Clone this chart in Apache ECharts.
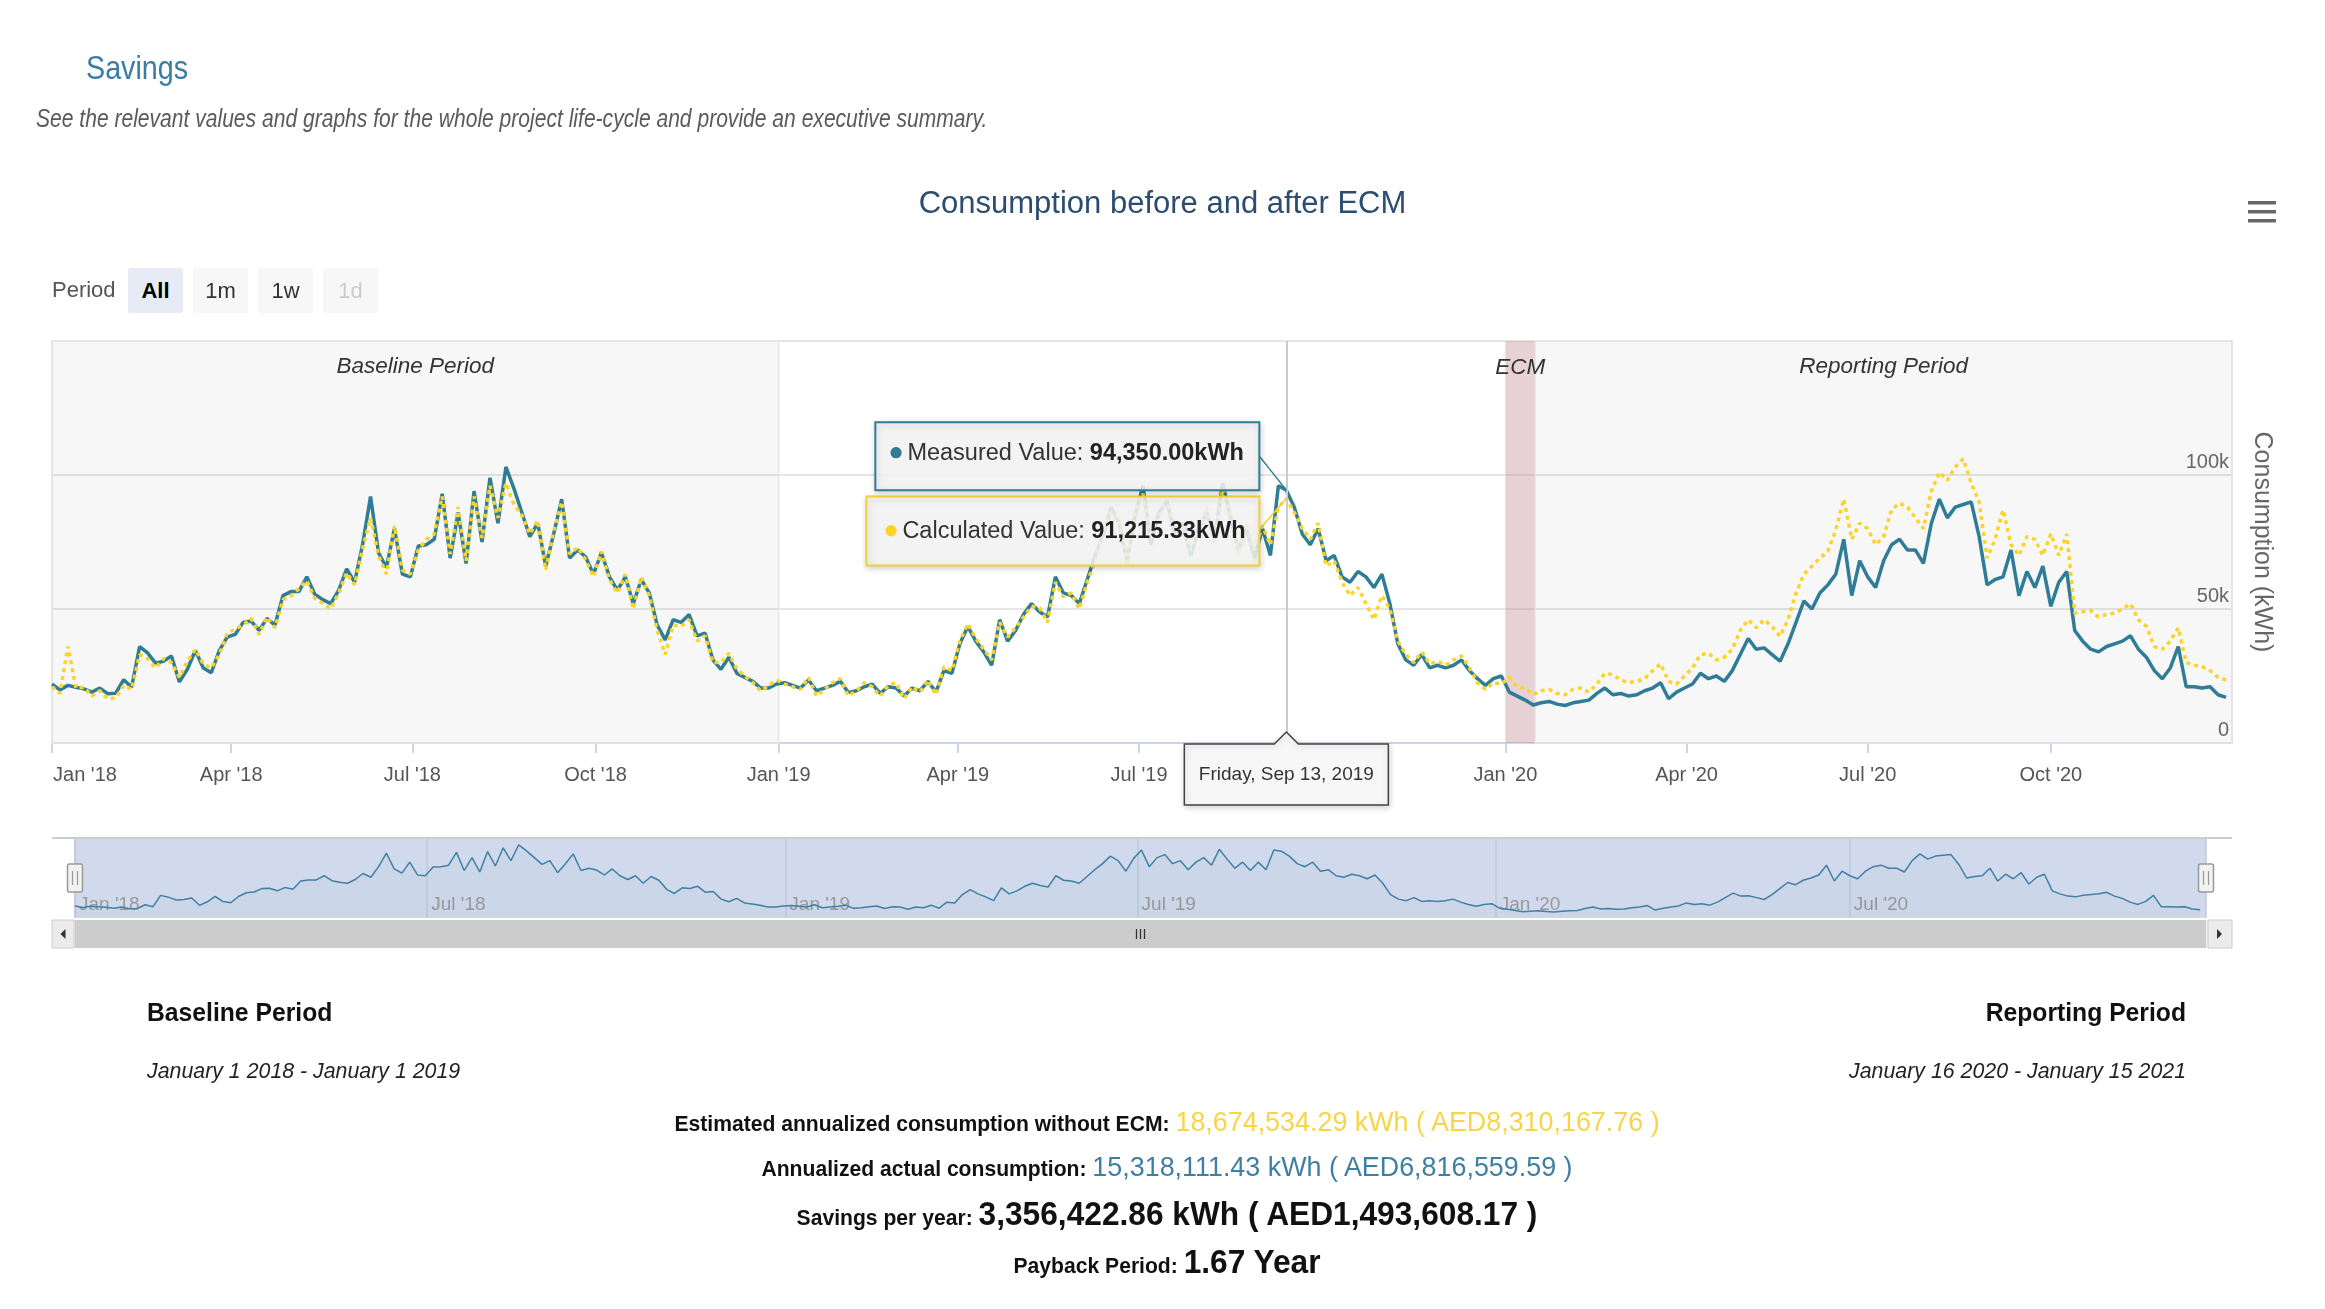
<!DOCTYPE html>
<html lang="en">
<head>
<meta charset="utf-8">
<title>Savings</title>
<script src="https://cdn.jsdelivr.net/npm/echarts@6.0.0/dist/echarts.min.js"></script>
<style>
  html, body { margin: 0; padding: 0; background: #fff; }
  body {
    position: relative; width: 2325px; height: 1309px; overflow: hidden;
    font-family: "Liberation Sans Narrow", "Arial Narrow", "Liberation Sans", Arial, sans-serif;
  }
  #chart { position: absolute; left: 0; top: 0; width: 2325px; height: 1309px; }
  .t { position: absolute; white-space: nowrap; line-height: 1.2; transform-origin: left center; transform: translateY(-50%) scaleX(var(--sx, 1)); }
  .t.c { transform-origin: center center; transform: translate(-50%, -50%) scaleX(var(--sx, 1)); }
  .t.r { transform-origin: right center; transform: translate(-100%, -50%) scaleX(var(--sx, 1)); }
  .page-title { left: 86px; top: 68px; font-size: 33px; color: #3b7ca6; --sx: 0.87; }
  .page-sub { left: 36px; top: 119px; font-size: 26px; font-style: italic; color: #5a5a5a; --sx: 0.81; }
  .rs { font-family: "Liberation Sans", Arial, sans-serif; font-size: 22px; }
  .rs-label { left: 52px; top: 290px; color: #555; }
  .rs-btn {
    position: absolute; top: 268px; width: 55px; height: 45px; line-height: 45px;
    text-align: center; background: #f7f7f7; border-radius: 3px; color: #333;
  }
  .rs-btn.sel { background: #e6ebf5; font-weight: bold; color: #000; }
  .rs-btn.off { color: #cccccc; }
  .sum-head { font-size: 26px; font-weight: bold; color: #111; --sx: 0.95; }
  .sum-date { font-size: 22px; font-style: italic; color: #222; --sx: 0.97; }
  .sum-line { left: 1167px; font-size: 22px; font-weight: bold; color: #111; --sx: 0.96; }
  .v-calc { font-size: 28px; font-weight: normal; color: #f8d548; }
  .v-meas { font-size: 28px; font-weight: normal; color: #3f7fa3; }
  .v-save { font-size: 33px; font-weight: bold; color: #111; }
  .v-pay { font-size: 33px; font-weight: bold; color: #111; }
</style>
</head>
<body>
<div id="chart"></div>

<div class="t page-title">Savings</div>
<div class="t page-sub">See the relevant values and graphs for the whole project life-cycle and provide an executive summary.</div>

<div class="t rs rs-label">Period</div>
<div id="rangeButtons" class="rs"></div>

<div class="t sum-head" style="left:147px; top:1013px;">Baseline Period</div>
<div class="t sum-date" style="left:147px; top:1071px;">January 1 2018 - January 1 2019</div>
<div class="t r sum-head" style="left:2186px; top:1013px;">Reporting Period</div>
<div class="t r sum-date" style="left:2186px; top:1071px;">January 16 2020 - January 15 2021</div>

<div class="t c sum-line" style="top:1122px;">Estimated annualized consumption without ECM: <span class="v-calc">18,674,534.29 kWh ( AED8,310,167.76 )</span></div>
<div class="t c sum-line" style="top:1167px;">Annualized actual consumption: <span class="v-meas">15,318,111.43 kWh ( AED6,816,559.59 )</span></div>
<div class="t c sum-line" style="top:1214px;">Savings per year: <span class="v-save">3,356,422.86 kWh ( AED1,493,608.17 )</span></div>
<div class="t c sum-line" style="top:1262px;">Payback Period: <span class="v-pay">1.67 Year</span></div>

<script>
  const FONT = '"Liberation Sans", Arial, sans-serif'
  const DAY = 86400000

  // daily readings, one every 4 days
  const startDate = '2018-01-01'
  const endDate = '2020-12-31'
  const stepDays = 4

  const measured = [
    22000, 19800, 21500, 20800, 20200, 19000, 20500, 18400, 18600, 23600, 20800,
    36000, 33600, 29800, 30500, 32500, 22800, 27500, 34500, 28000, 26200,
    34500, 39500, 40500, 45000, 45500, 42000, 46500, 44000, 55000, 56500,
    56500, 62000, 55500, 53500, 52000, 57000, 65000, 60000, 74000, 92000,
    71000, 65500, 80000, 63000, 62000, 73500, 74000, 76000, 93000, 69000,
    86000, 67000, 94000, 75000, 99000, 82000, 103000, 95000, 86000, 77000,
    82000, 66000, 78000, 91000, 69000, 72000, 69500, 63000, 71000, 62000,
    57000, 62000, 52000, 61000, 56000, 44000, 38500, 46000, 45000, 48000,
    40000, 41000, 31000, 27500, 32000, 26000, 24500, 23000, 20500, 20500,
    22000, 22500, 21500, 20500, 23500, 19500, 20500, 21500, 23000, 18800,
    19500, 21000, 22000, 18500, 21000, 20500, 17500, 20500, 19500, 23000,
    19000, 27000, 26000, 37000, 43500, 38000, 34000, 29000, 46000, 38000,
    42000, 48000, 52000, 49000, 47000, 62000, 56000, 55000, 52000, 61000,
    70000, 78000, 88000, 82000, 68000, 85000, 96000, 74000, 86000, 90000,
    78000, 82000, 70000, 80000, 86000, 76000, 97000, 84000, 72000, 80000,
    69000, 80000, 70000, 96000, 94350, 88000, 78000, 74000, 80000, 68000,
    70000, 62000, 60000, 64000, 62000, 58000, 63000, 52000, 37000, 31000,
    29000, 33000, 28000, 29000, 28000, 29000, 31000, 27000, 24000, 21500,
    24000, 25000, 19000, 17500, 16000, 14200, 15000, 15500, 14500, 14000,
    15000, 15500, 16000, 18500, 20500, 18000, 18500, 17500, 18000, 19500,
    20500, 22500, 16500, 19000, 20500, 22000, 26000, 24000, 25000, 23000,
    27000, 33000, 39000, 35000, 35500, 33000, 30500, 37000, 45000, 53000,
    50000, 56000, 59000, 63000, 76000, 55000, 68000, 62000, 58000, 68000,
    74000, 76000, 72000, 72000, 67000, 82000, 91000, 84000, 88000, 89000,
    90000, 77000, 59000, 61000, 62000, 72000, 55000, 64000, 58000, 66000,
    51000, 60000, 64000, 42000, 38000, 35000, 34000, 36000, 37000, 38000,
    40000, 35000, 32000, 27000, 24000, 28000, 36000, 21000, 21000, 20500,
    21000, 18000, 17000,
  ]

  const calculated = [
    21000, 18500, 36000, 20500, 20800, 17500, 19500, 16500, 16800, 21500, 20000,
    33000, 31500, 28000, 31500, 30000, 24500, 30500, 35000, 29500, 28000,
    33000, 41000, 42500, 44000, 46500, 40500, 47000, 43000, 53500, 55000,
    57500, 60500, 54000, 52000, 50000, 56000, 63500, 59000, 72500, 84000,
    70000, 63000, 81000, 64500, 63000, 72000, 76000, 78000, 92000, 70500,
    88000, 68000, 92000, 76500, 96000, 84000, 97000, 89000, 85000, 78000,
    83000, 64500, 79000, 90000, 70500, 73000, 68500, 62000, 71500, 61000,
    56000, 63000, 50000, 62000, 55000, 42000, 33000, 44000, 43500, 46000,
    38000, 40000, 30000, 30000, 33500, 27500, 25000, 22500, 19500, 21500,
    23500, 22000, 21000, 20000, 24500, 17500, 20000, 22500, 24000, 17500,
    19500, 22500, 21000, 17500, 21500, 22500, 16500, 21000, 19000, 23500,
    18000, 28500, 27000, 38000, 44500, 39000, 35000, 31000, 45000, 39500,
    43000, 47000, 51000, 50500, 45000, 60000, 54500, 56000, 50000, 60000,
    68000, 80000, 86000, 84000, 66000, 87000, 93000, 76000, 84000, 91000,
    80000, 81000, 72000, 79000, 88000, 74000, 95000, 86000, 70000, 82000,
    72000, 81000, 74000, 88000, 91215.33, 86000, 80000, 76000, 82000, 66000,
    68000, 60000, 55000, 58000, 52000, 46000, 55000, 50000, 38000, 33000,
    30000, 34000, 29500, 30500, 29000, 31000, 32500, 28000, 22500, 20000,
    22500, 22000, 24500, 21000, 20500, 18000, 19500, 20000, 18500, 18000,
    20000, 20500, 19000, 22000, 26000, 25500, 23500, 22500, 23000, 24000,
    27000, 29500, 23000, 22000, 25000, 28000, 33000, 33500, 31000, 32000,
    35000, 42000, 46000, 43000, 46000, 43500, 39800, 46000, 56000, 63000,
    66000, 69000, 71500, 79500, 91000, 76000, 82000, 80000, 74000, 77000,
    87000, 89500, 88000, 84000, 80000, 94000, 101000, 98000, 103000, 106000,
    97000, 90000, 69000, 76000, 87000, 74000, 70000, 77000, 76000, 70000,
    78000, 70000, 78000, 48500, 49000, 49500, 47000, 48000, 48500, 50000,
    52000, 46000, 43500, 36000, 35000, 38000, 43000, 30000, 29000, 28500,
    27000, 24500, 23500,
  ]

  const bandNames = ['Baseline Period', 'ECM', 'Reporting Period']
  const bandStarts = ['2018-01-01', '2020-01-01', '2020-01-16']
  const bandEnds = ['2019-01-01', '2020-01-16', '2021-01-15']

  const yTicks = [0, 50000, 100000, 150000]
  const navRange = [6000, 112000]

  const tipIndex = 155
  const monthNames = ['Jan', 'Feb', 'Mar', 'Apr', 'May', 'Jun', 'Jul', 'Aug', 'Sep', 'Oct', 'Nov', 'Dec']
  const weekDays = ['Sunday', 'Monday', 'Tuesday', 'Wednesday', 'Thursday', 'Friday', 'Saturday']
  const periodButtons = ['All', '1m', '1w', '1d']

  // range selector buttons
  const rb = document.getElementById('rangeButtons')
  periodButtons.forEach((txt, i) => {
    const b = document.createElement('div')
    b.className = 'rs-btn' + (i === 0 ? ' sel' : '') + (i === periodButtons.length - 1 ? ' off' : '')
    b.style.left = 128 + i * 65 + 'px'
    b.textContent = txt
    rb.appendChild(b)
  })

  const t0 = Date.parse(startDate)
  const tMax = Date.parse(endDate)
  const timeAt = (i) => t0 + i * stepDays * DAY
  const measuredPts = measured.map((v, i) => [timeAt(i), v])
  const calculatedPts = calculated.map((v, i) => [timeAt(i), v])
  const tipTime = timeAt(tipIndex)

  const monthLabel = (v) => {
    const d = new Date(v)
    return monthNames[d.getUTCMonth()] + " '" + String(d.getUTCFullYear()).slice(2)
  }
  // first label starts at the tick instead of being centred on it
  const mainLabel = (v) => (v <= t0 ? '{first|' + monthLabel(v) + '}' : monthLabel(v))
  const fmtKwh = (v) =>
    v.toLocaleString('en-US', { minimumFractionDigits: 2, maximumFractionDigits: 2 }) + 'kWh'

  const BLUE = '#2f7c96'
  const YELLOW = '#fbd42a'

  const chart = echarts.init(document.getElementById('chart'))

  const valueAxisBase = {
    type: 'value',
    gridIndex: 0,
    position: 'right',
    min: yTicks[0],
    max: yTicks[yTicks.length - 1],
    interval: yTicks[1] - yTicks[0],
    axisLine: { show: false },
    axisTick: { show: false },
  }

  const option = {
    useUTC: true,
    animation: false,
    textStyle: { fontFamily: FONT },
    title: {
      text: 'Consumption before and after ECM',
      left: 'center',
      top: 189,
      padding: 0,
      textStyle: { color: '#2b4d6f', fontSize: 31, fontWeight: 'normal', fontFamily: FONT },
    },
    grid: [
      {
        left: 52, top: 341, width: 2180, height: 402,
        show: true, backgroundColor: '#fff', borderColor: '#e6e6e6', borderWidth: 2,
      },
      {
        left: 75, top: 838, width: 2131, height: 80,
        show: true, backgroundColor: '#d1daed', borderWidth: 0,
      },
    ],
    xAxis: [
      {
        type: 'time',
        gridIndex: 0,
        min: t0,
        max: tMax,
        minInterval: 92 * DAY,
        maxInterval: 92 * DAY,
        axisLine: { lineStyle: { color: '#ccd6eb', width: 2 } },
        axisTick: { length: 10, lineStyle: { color: '#ccd6eb', width: 2 } },
        axisLabel: {
          formatter: mainLabel,
          color: '#555',
          fontSize: 20,
          margin: 22,
          hideOverlap: false,
          rich: { first: { color: '#555', fontSize: 20, padding: [0, 0, 0, 66] } },
        },
        splitLine: { show: false },
      },
      {
        type: 'time',
        gridIndex: 1,
        min: t0,
        max: tMax,
        minInterval: 183 * DAY,
        maxInterval: 183 * DAY,
        axisLine: { show: false },
        axisTick: { show: false },
        axisLabel: {
          inside: true,
          formatter: monthLabel,
          color: '#999',
          fontSize: 19,
          align: 'left',
          padding: [0, 0, 0, 4],
          margin: 4,
          hideOverlap: false,
        },
        splitLine: { show: true, lineStyle: { color: '#c0c9db', width: 1.5 } },
      },
    ],
    yAxis: [
      // grid lines (under the lines)
      Object.assign({}, valueAxisBase, {
        axisLabel: { show: false },
        splitLine: { lineStyle: { color: '#e6e6e6', width: 2 } },
      }),
      {
        type: 'value',
        gridIndex: 1,
        min: navRange[0],
        max: navRange[1],
        show: false,
        splitLine: { show: false },
      },
      // labels and title drawn on top of the plot bands
      Object.assign({}, valueAxisBase, {
        z: 10,
        splitLine: { show: false },
        axisLabel: {
          inside: true,
          showMaxLabel: false,
          formatter: (v) => (v === 0 ? '0' : v / 1000 + 'k'),
          color: '#666',
          fontSize: 20,
          verticalAlign: 'bottom',
          margin: 3,
          padding: [0, 0, 3, 0],
        },
        name: 'Consumption (kWh)',
        nameLocation: 'middle',
        nameRotate: -90,
        nameGap: 17,
        nameTextStyle: { color: '#666', fontSize: 25 },
      }),
    ],
    series: [
      {
        name: 'bands',
        type: 'line',
        xAxisIndex: 0,
        yAxisIndex: 0,
        data: [],
        z: 1,
        silent: true,
        markArea: {
          silent: true,
          label: {
            position: 'insideTop',
            distance: 15,
            color: '#333',
            fontStyle: 'italic',
            fontSize: 22.5,
          },
          data: bandNames.map((n, i) => [
            {
              name: n,
              xAxis: Date.parse(bandStarts[i]),
              itemStyle:
                n === 'ECM'
                  ? { color: 'rgba(189,124,132,0.35)' }
                  : { color: 'rgba(0,0,0,0.03)', borderColor: '#e6e6e6', borderWidth: 1.5 },
            },
            { xAxis: Math.min(Date.parse(bandEnds[i]), tMax) },
          ]),
        },
        markLine: {
          silent: true,
          symbol: ['none', 'none'],
          label: { show: false },
          lineStyle: { color: '#cccccc', width: 2, type: 'solid' },
          data: [{ xAxis: tipTime }],
        },
      },
      {
        name: 'Measured Value',
        type: 'line',
        xAxisIndex: 0,
        yAxisIndex: 0,
        data: measuredPts,
        showSymbol: false,
        z: 2,
        lineStyle: { color: BLUE, width: 3.5 },
        itemStyle: { color: BLUE },
      },
      {
        name: 'Calculated Value',
        type: 'line',
        xAxisIndex: 0,
        yAxisIndex: 0,
        data: calculatedPts,
        showSymbol: false,
        z: 3,
        lineStyle: { color: YELLOW, width: 3.5, type: [4, 4], cap: 'butt' },
        itemStyle: { color: YELLOW },
      },
      {
        name: 'navigator',
        type: 'line',
        xAxisIndex: 1,
        yAxisIndex: 1,
        data: measuredPts,
        showSymbol: false,
        z: 2,
        lineStyle: { color: '#3f80a4', width: 1.5 },
        areaStyle: { color: 'rgba(63,128,164,0.06)' },
      },
    ],
  }

  chart.setOption(option)

  // pixel positions read back from the axes
  const pm = chart.convertToPixel({ gridIndex: 0 }, [tipTime, measured[tipIndex]])
  const pc = chart.convertToPixel({ gridIndex: 0 }, [tipTime, calculated[tipIndex]])
  const axisY = chart.convertToPixel({ gridIndex: 0 }, [tipTime, 0])[1]
  const gx0 = chart.convertToPixel({ xAxisIndex: 0 }, t0)
  const gx1 = chart.convertToPixel({ xAxisIndex: 0 }, tMax)
  const nx0 = chart.convertToPixel({ xAxisIndex: 1 }, t0)
  const nx1 = chart.convertToPixel({ xAxisIndex: 1 }, tMax)
  const nyTop = chart.convertToPixel({ yAxisIndex: 1 }, navRange[1])
  const nyBot = chart.convertToPixel({ yAxisIndex: 1 }, navRange[0])

  const g = []

  // export menu icon
  ;[0, 9, 18].forEach((dy) => {
    g.push({ type: 'rect', silent: true, shape: { x: 2248, y: 201 + dy, width: 28, height: 3.5 }, style: { fill: '#666' } })
  })

  // navigator outline + handles
  g.push({
    type: 'line', silent: true,
    shape: { x1: gx0, y1: nyTop, x2: gx1, y2: nyTop },
    style: { stroke: '#cccccc', lineWidth: 2 },
  })
  const navMid = (nyTop + nyBot) / 2
  ;[nx0, nx1].forEach((hx) => {
    g.push({
      type: 'rect', silent: true, z: 20,
      shape: { x: hx - 7.5, y: navMid - 14, width: 15, height: 28, r: 2 },
      style: { fill: '#f2f2f2', stroke: '#999', lineWidth: 1.5 },
    })
    ;[-2.5, 2.5].forEach((o) => {
      g.push({
        type: 'line', silent: true, z: 21,
        shape: { x1: hx + o, y1: navMid - 7, x2: hx + o, y2: navMid + 7 },
        style: { stroke: '#999', lineWidth: 1.2 },
      })
    })
  })

  // scrollbar
  const sbTop = nyBot + 2
  const sbH = 28
  g.push({ type: 'rect', silent: true, shape: { x: gx0, y: sbTop, width: gx1 - gx0, height: sbH }, style: { fill: '#f2f2f2' } })
  g.push({ type: 'rect', silent: true, shape: { x: nx0, y: sbTop, width: nx1 - nx0, height: sbH }, style: { fill: '#cccccc' } })
  g.push({ type: 'rect', silent: true, shape: { x: gx0, y: sbTop, width: nx0 - gx0 - 1, height: sbH }, style: { fill: '#ebebeb', stroke: '#cccccc', lineWidth: 1 } })
  g.push({ type: 'rect', silent: true, shape: { x: nx1 + 2, y: sbTop, width: gx1 - nx1 - 2, height: sbH }, style: { fill: '#ebebeb', stroke: '#cccccc', lineWidth: 1 } })
  const sbMid = sbTop + sbH / 2
  const lbx = (gx0 + nx0) / 2
  const rbx = (nx1 + gx1) / 2
  g.push({ type: 'polygon', silent: true, shape: { points: [[lbx - 3, sbMid], [lbx + 2, sbMid - 5], [lbx + 2, sbMid + 5]] }, style: { fill: '#333' } })
  g.push({ type: 'polygon', silent: true, shape: { points: [[rbx + 3, sbMid], [rbx - 2, sbMid - 5], [rbx - 2, sbMid + 5]] }, style: { fill: '#333' } })
  const gripX = (nx0 + nx1) / 2
  ;[-4, 0, 4].forEach((o) => {
    g.push({
      type: 'line', silent: true,
      shape: { x1: gripX + o, y1: sbMid - 5, x2: gripX + o, y2: sbMid + 5 },
      style: { stroke: '#333', lineWidth: 1.3 },
    })
  })

  // split tooltip boxes
  const boxRight = pm[0] - 27
  const mBox = { x: boxRight - 384, y: pm[1] - 68, width: 384, height: 68 }
  const cBox = { x: boxRight - 393, y: pc[1] - 2, width: 393, height: 69 }
  const boxFill = 'rgba(247,247,247,0.86)'
  const shadow = { shadowBlur: 6, shadowColor: 'rgba(0,0,0,0.18)', shadowOffsetX: 1, shadowOffsetY: 2 }
  const tipRich = (color) => ({
    dot: { fill: color, fontSize: 26, fontFamily: FONT },
    lab: { fill: '#333', fontSize: 23.5, fontFamily: FONT },
    val: { fill: '#222', fontSize: 23.5, fontWeight: 'bold', fontFamily: FONT },
  })

  g.push({
    type: 'polyline', silent: true, z: 50,
    shape: { points: [[boxRight, cBox.y + 33], [pc[0], pc[1]]] },
    style: { stroke: '#f2d23c', lineWidth: 1.5, fill: null },
  })
  g.push({
    type: 'rect', silent: true, z: 50,
    shape: cBox,
    style: Object.assign({ fill: boxFill, stroke: '#f2d23c', lineWidth: 2 }, shadow),
  })
  g.push({
    type: 'text', silent: true, z: 51,
    x: cBox.x + 17, y: cBox.y + cBox.height / 2,
    style: {
      text: '{dot|●} {lab|Calculated Value: }{val|' + fmtKwh(calculated[tipIndex]) + '}',
      verticalAlign: 'middle',
      rich: tipRich(YELLOW),
    },
  })

  g.push({
    type: 'polyline', silent: true, z: 52,
    shape: { points: [[boxRight, mBox.y + 34], [pm[0], pm[1]]] },
    style: { stroke: BLUE, lineWidth: 1.5, fill: null },
  })
  g.push({
    type: 'rect', silent: true, z: 52,
    shape: mBox,
    style: Object.assign({ fill: boxFill, stroke: BLUE, lineWidth: 2 }, shadow),
  })
  g.push({
    type: 'text', silent: true, z: 53,
    x: mBox.x + 13, y: mBox.y + mBox.height / 2 - 3,
    style: {
      text: '{dot|●} {lab|Measured Value: }{val|' + fmtKwh(measured[tipIndex]) + '}',
      verticalAlign: 'middle',
      rich: tipRich(BLUE),
    },
  })

  // date label under the crosshair
  const d = new Date(tipTime)
  const dateText =
    weekDays[d.getUTCDay()] + ', ' + monthNames[d.getUTCMonth()] + ' ' + d.getUTCDate() + ', ' + d.getUTCFullYear()
  const lx = pm[0]
  const lt = axisY + 1
  const lw = 204
  const lh = 61
  g.push({
    type: 'polygon', silent: true, z: 54,
    shape: {
      points: [
        [lx - lw / 2, lt], [lx - 12, lt], [lx, lt - 12], [lx + 12, lt],
        [lx + lw / 2, lt], [lx + lw / 2, lt + lh], [lx - lw / 2, lt + lh],
      ],
    },
    style: Object.assign({ fill: '#f7f7f7', stroke: '#444', lineWidth: 1.5 }, shadow),
  })
  g.push({
    type: 'text', silent: true, z: 55,
    x: lx, y: lt + lh / 2,
    style: { text: dateText, fill: '#333', fontSize: 19, fontFamily: FONT, align: 'center', verticalAlign: 'middle' },
  })

  chart.setOption({ graphic: g })
</script>
</body>
</html>
